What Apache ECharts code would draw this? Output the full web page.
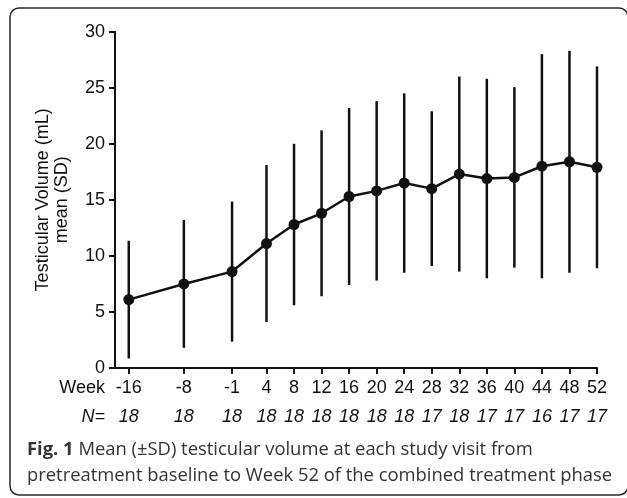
<!doctype html>
<html>
<head>
<meta charset="utf-8">
<title>Testicular volume</title>
<script src="https://cdn.jsdelivr.net/npm/echarts@6/dist/echarts.min.js"></script>
<style>
  html, body { margin: 0; padding: 0; background: #fff; }
  #container { width: 627px; height: 498px; }
</style>
</head>
<body>
<div id="container"></div>
<script type="text/javascript">
// study weeks and values
var weeks = [-16, -8, -1, 4, 8, 12, 16, 20, 24, 28, 32, 36, 40, 44, 48, 52];
var nCounts = [18, 18, 18, 18, 18, 18, 18, 18, 18, 17, 18, 17, 17, 16, 17, 17];
var means = [6.1, 7.5, 8.6, 11.1, 12.8, 13.8, 15.3, 15.8, 16.5, 16.0, 17.3, 16.9, 17.0, 18.0, 18.4, 17.9];
var sds = [5.25, 5.7, 6.25, 7.0, 7.2, 7.4, 7.9, 8.0, 8.0, 6.9, 8.7, 8.9, 8.05, 10.0, 9.9, 9.0];

var meanData = weeks.map(function (w, i) { return [w, means[i]]; });
var barData = weeks.map(function (w, i) { return [w, means[i] - sds[i], means[i] + sds[i]]; });
var nByWeek = {};
weeks.forEach(function (w, i) { nByWeek[w] = nCounts[i]; });

var ink = '#111';
var chartFont = 'Liberation Sans';

var option = {
  animation: false,
  backgroundColor: '#fff',
  grid: { left: 115, right: 30, top: 31.7, bottom: 130, containLabel: false },
  xAxis: {
    type: 'value',
    min: -18,
    max: 52,
    splitLine: { show: false },
    axisLine: { onZero: false, lineStyle: { color: ink, width: 2 } },
    axisTick: { customValues: weeks, length: 6, lineStyle: { color: ink, width: 2 } },
    axisLabel: {
      customValues: weeks,
      margin: 9,
      formatter: function (v) { return '{w|' + v + '}\n{n|' + nByWeek[v] + '}'; },
      rich: {
        w: { fontFamily: chartFont, fontSize: 18, color: ink, lineHeight: 22 },
        n: { fontFamily: chartFont, fontSize: 18, fontStyle: 'italic', color: ink, lineHeight: 36 }
      }
    }
  },
  yAxis: {
    type: 'value',
    min: 0,
    max: 30,
    interval: 5,
    name: 'Testicular Volume (mL)\nmean (SD)',
    nameLocation: 'middle',
    nameGap: 43,
    nameTextStyle: { fontFamily: chartFont, fontSize: 18, color: ink, lineHeight: 19 },
    splitLine: { show: false },
    axisLine: { show: true, onZero: false, lineStyle: { color: ink, width: 2 } },
    axisTick: { show: true, length: 6, lineStyle: { color: ink, width: 2 } },
    axisLabel: { fontFamily: chartFont, fontSize: 18, color: ink, margin: 10 }
  },
  graphic: [
    {
      type: 'rect',
      shape: { x: 10, y: 8, width: 618, height: 487, r: 9 },
      style: { fill: 'none', stroke: '#2a2a2a', lineWidth: 1.5 },
      silent: true
    },
    {
      type: 'text', x: 105, y: 388,
      style: { text: 'Week', font: '18px "Liberation Sans"', fill: ink, align: 'right', verticalAlign: 'middle' }
    },
    {
      type: 'text', x: 105, y: 417,
      style: { text: 'N=', font: 'italic 18px "Liberation Sans"', fill: ink, align: 'right', verticalAlign: 'middle' }
    },
    {
      type: 'text', left: 27, top: 437,
      style: {
        text: '{b|Fig. 1} Mean (\u00b1SD) testicular volume at each study visit from\npretreatment baseline to Week 52 of the combined treatment phase',
        fill: '#333',
        font: '18.4px "Open Sans"',
        lineHeight: 26,
        rich: {
          b: { fontFamily: 'Open Sans', fontWeight: 'bold', fontSize: 18.4, fill: '#333' }
        }
      }
    }
  ],
  series: [
    {
      type: 'custom',
      data: barData,
      renderItem: function (params, api) {
        var top = api.coord([api.value(0), api.value(2)]);
        var bot = api.coord([api.value(0), api.value(1)]);
        return {
          type: 'line',
          shape: { x1: top[0], y1: top[1], x2: bot[0], y2: bot[1] },
          style: { stroke: ink, lineWidth: 2.5 }
        };
      },
      z: 2
    },
    {
      type: 'line',
      data: meanData,
      symbol: 'circle',
      symbolSize: 11,
      itemStyle: { color: ink },
      lineStyle: { color: ink, width: 2.5 },
      z: 3
    }
  ]
};

var myChart = echarts.init(document.getElementById('container'));
myChart.setOption(option);
</script>
</body>
</html>
